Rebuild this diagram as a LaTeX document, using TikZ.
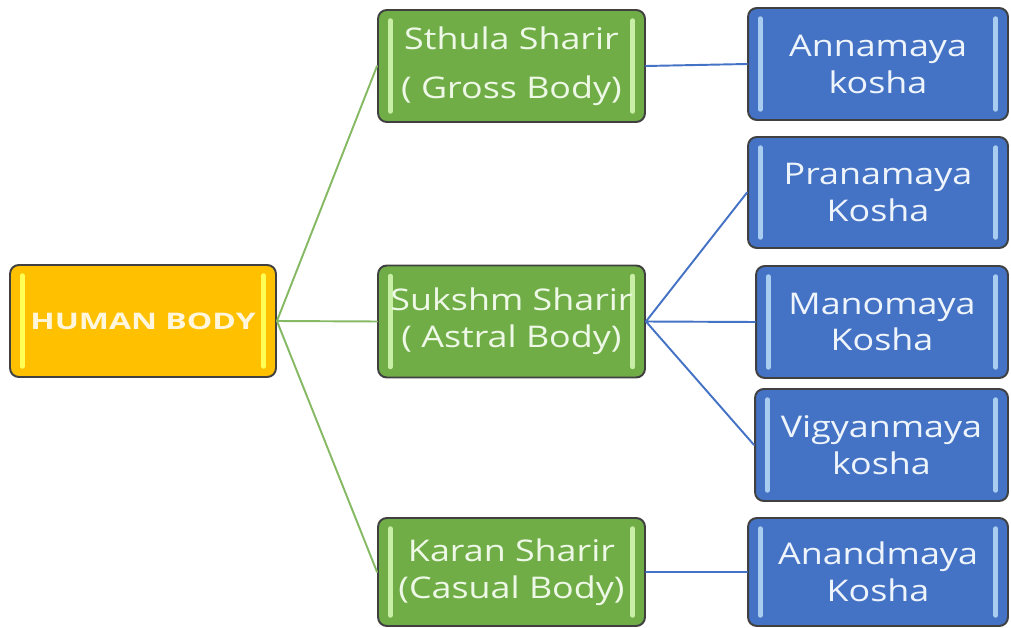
\documentclass[tikz,border=0pt]{standalone}
\usepackage{fontspec}
\setmainfont{Open Sans}[FakeStretch=1.2]
\newfontfamily\hbfont{Open Sans}[FakeStretch=1.4]
\definecolor{boxedge}{HTML}{404040}
\definecolor{hborange}{HTML}{FFC000}
\definecolor{hbbar}{HTML}{FFFF55}
\definecolor{hbtext}{HTML}{FFF6DC}
\definecolor{bodygreen}{HTML}{70AD47}
\definecolor{greenbar}{HTML}{C9EFA6}
\definecolor{greentext}{HTML}{EEF8E6}
\definecolor{koshablue}{HTML}{4472C4}
\definecolor{bluebar}{HTML}{A9CDF0}
\definecolor{bluetext}{HTML}{EEF4FB}
\tikzset{
  sidebars/.style={path picture={
    \draw[line width=2.6pt, #1] ([xshift=7pt,yshift=-6pt]path picture bounding box.north west)--([xshift=7pt,yshift=6pt]path picture bounding box.south west);
    \draw[line width=2.6pt, #1] ([xshift=-7pt,yshift=-6pt]path picture bounding box.north east)--([xshift=-7pt,yshift=6pt]path picture bounding box.south east);}},
  box/.style={draw=boxedge, line width=1.1pt, rounded corners=5pt, inner sep=0pt, align=center, minimum height=2.24cm, font=\fontsize{17}{21}\selectfont},
  hbbox/.style={box, fill=hborange, text=hbtext, sidebars=hbbar, minimum width=5.32cm, font=\hbfont\bfseries\fontsize{13}{16}\selectfont},
  sharirbox/.style={box, fill=bodygreen, text=greentext, sidebars=greenbar, minimum width=5.34cm},
  koshabox/.style={box, fill=koshablue, text=bluetext, sidebars=bluebar, minimum width=5.2cm},
  greenline/.style={draw=bodygreen!85!white, line width=1.1pt},
  blueline/.style={draw=koshablue, line width=1.1pt}
}
\begin{document}
\begin{tikzpicture}[x=0.02cm, y=-0.02cm, line cap=round, line join=round]
	\useasboundingbox (0,0) rectangle (1011,628);
	\node[hbbox] (hb) at (143,321) {HUMAN BODY};
	% bodies
	\node[sharirbox] (sthula) at (511.5,66) {Sthula Sharir\\[7pt]( Gross Body)};
	\node[sharirbox] (sukshm) at (511.5,321.5) {Sukshm Sharir\\( Astral Body)};
	\node[sharirbox, minimum height=2.16cm] (karan) at (511.5,572) {Karan Sharir\\(Casual Body)};
	% koshas
	\node[koshabox] (anna) at (878,64) {Annamaya\\kosha};
	\node[koshabox, minimum height=2.22cm] (prana) at (878,192.5) {Pranamaya\\Kosha};
	\node[koshabox, minimum width=5.04cm] (mano) at (882,322) {Manomaya\\Kosha};
	\node[koshabox, minimum width=5.06cm] (vigyan) at (881.5,445) {Vigyanmaya\\kosha};
	\node[koshabox, minimum height=2.16cm] (ananda) at (878,572) {Anandmaya\\Kosha};
	\foreach \s in {sthula,sukshm,karan}
		\draw[greenline] (hb.east)--(\s.west);
	\draw[blueline] (sthula.east)--(anna.west);
	\draw[blueline] (sukshm.east)--(prana.west) (sukshm.east)--(mano.west) (sukshm.east)--(vigyan.west);
	\draw[blueline] (karan.east)--(ananda.west);
\end{tikzpicture}
\end{document}
